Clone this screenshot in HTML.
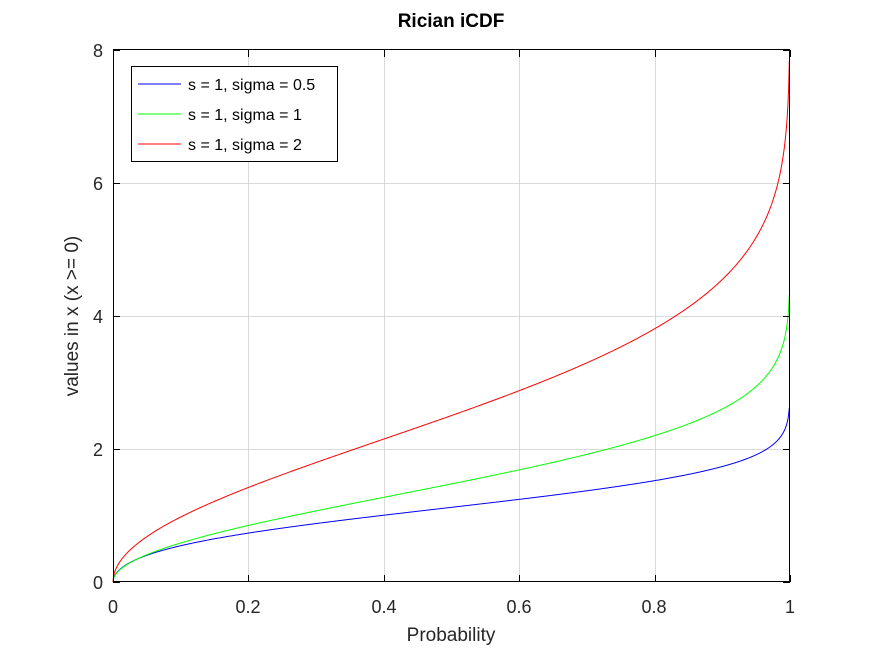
<!DOCTYPE html>
<html><head><meta charset="utf-8"><style>
html,body{margin:0;padding:0;background:#fff;}
svg text{font-family:"Liberation Sans",sans-serif;}
</style></head><body>
<svg id="s" width="872" height="654" viewBox="0 0 872 654" xmlns="http://www.w3.org/2000/svg">
<rect width="872" height="654" fill="#fff"/>
<g id="grid" stroke="#d9d9d9" stroke-width="1"></g>
<g id="curves" fill="none" stroke-width="1"></g>
<rect x="113.5" y="49.5" width="676" height="532" fill="none" stroke="#000" stroke-width="1"/>
<g id="ticks" stroke="#000" stroke-width="1"></g>
<g font-size="18" fill="#262626" text-anchor="middle">
<text x="113" y="613">0</text><text x="248" y="613">0.2</text><text x="384" y="613">0.4</text>
<text x="519" y="613">0.6</text><text x="654" y="613">0.8</text><text x="790" y="613">1</text>
</g>
<g font-size="18" fill="#262626" text-anchor="end">
<text x="103" y="589">0</text><text x="103" y="456">2</text><text x="103" y="323">4</text>
<text x="103" y="190">6</text><text x="103" y="57">8</text>
</g>
<text x="451" y="641" font-size="19" fill="#262626" text-anchor="middle">Probability</text>
<text transform="translate(78,316) rotate(-90)" font-size="19" fill="#262626" text-anchor="middle">values in x (x &gt;= 0)</text>
<text x="451" y="27" font-size="19" font-weight="bold" fill="#000" text-anchor="middle">Rician iCDF</text>
<rect x="131.5" y="66.5" width="206" height="95" fill="#fff" stroke="#000"/>
<line x1="138" y1="84" x2="181" y2="84" stroke="#0000ff"/>
<line x1="138" y1="114" x2="181" y2="114" stroke="#00ff00"/>
<line x1="138" y1="144" x2="181" y2="144" stroke="#ff0000"/>
<g font-size="16" fill="#000">
<text x="188" y="90">s = 1, sigma = 0.5</text>
<text x="188" y="120">s = 1, sigma = 1</text>
<text x="188" y="150">s = 1, sigma = 2</text>
</g>
</svg>
<script>
(function(){
var NS="http://www.w3.org/2000/svg";
function el(p,t,a){var e=document.createElementNS(NS,t);for(var k in a)e.setAttribute(k,a[k]);p.appendChild(e);return e;}
var X=function(p){return 113+p*677;}, Y=function(v){return 582-v*66.5;};
var g=document.getElementById('grid'),tk=document.getElementById('ticks');
[0.2,0.4,0.6,0.8].forEach(function(p){var x=Math.round(X(p))+0.5;el(g,'line',{x1:x,y1:50,x2:x,y2:582});});
[2,4,6].forEach(function(v){var y=Math.round(Y(v))+0.5;el(g,'line',{x1:114,y1:y,x2:790,y2:y});});
[0,0.2,0.4,0.6,0.8,1].forEach(function(p){var x=Math.round(X(p))+0.5;el(tk,'line',{x1:x,y1:582,x2:x,y2:575});el(tk,'line',{x1:x,y1:50,x2:x,y2:57});});
[0,2,4,6,8].forEach(function(v){var y=Math.round(Y(v))+0.5;el(tk,'line',{x1:113,y1:y,x2:120,y2:y});el(tk,'line',{x1:790,y1:y,x2:783,y2:y});});
function I0(z){var s=1,t=1;for(var k=1;k<200;k++){t*=(z*z/4)/(k*k);s+=t;if(t<1e-17*s)break;}return s;}
function curve(sig,col){
  var nu=1,h=0.0005,xs=[0],cs=[0],c=0,prev=0;
  for(var x=h;x<14;x+=h){var f=x/(sig*sig)*Math.exp(-(x*x+nu*nu)/(2*sig*sig))*I0(x*nu/(sig*sig));c+=(f+prev)/2*h;prev=f;xs.push(x);cs.push(c);}
  var tot=c,d="",j=0;
  for(var i=0;i<=999;i++){var p=i/1000;var target=p*tot;
    while(j<cs.length-1&&cs[j+1]<target)j++;
    var v=xs[j]; if(j<cs.length-1&&cs[j+1]>cs[j]) v=xs[j]+(target-cs[j])/(cs[j+1]-cs[j])*h;
    if(p==0)v=0;
    d+=(i?"L":"M")+X(p).toFixed(2)+","+Y(v).toFixed(2);}
  el(document.getElementById('curves'),'path',{d:d,stroke:col});
}
curve(0.5,'#0000ff');curve(1,'#00ff00');curve(2,'#ff0000');
})();
</script>
</body></html>
